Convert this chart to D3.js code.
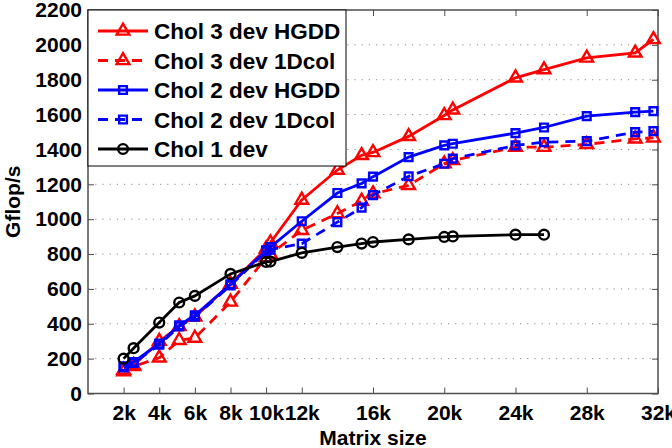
<!DOCTYPE html>
<html>
<head>
<meta charset="utf-8">
<script src="https://cdn.jsdelivr.net/npm/d3@7"></script>
<style>
  body { margin: 0; background: #fff; }
  svg { display: block; font-family: "Liberation Sans", Arial, Helvetica, sans-serif; font-weight: bold; }
</style>
</head>
<body>
<div id="chart"></div>
<script>
// matrix sizes (black series stops at 25600)
const sizes = [2000, 2560, 4000, 5120, 6000, 8000, 10000, 10240, 12000, 14000, 15360, 16000, 18000, 20000, 20480, 24000, 25600, 28000, 30720, 31744];
const chol3Hgdd = [134, 162, 300, 385, 440, 628, 830, 865, 1110, 1282, 1366, 1383, 1475, 1595, 1627, 1811, 1858, 1925, 1954, 2031];
const chol3Col = [125, 155, 205, 305, 318, 525, 780, 800, 936, 1032, 1104, 1146, 1194, 1318, 1337, 1413, 1413, 1429, 1461, 1467];
const chol2Hgdd = [156, 181, 286, 391, 449, 626, 821, 840, 988, 1150, 1205, 1244, 1356, 1423, 1433, 1494, 1526, 1591, 1614, 1620];
const chol2Col = [150, 175, 280, 385, 440, 620, 815, 825, 860, 983, 1066, 1138, 1246, 1318, 1347, 1423, 1442, 1448, 1499, 1505];
const chol1 = [200, 260, 407, 522, 560, 686, 755, 757, 807, 840, 860, 869, 884, 898, 901, 911, 911];

const xTicks = [2000, 4000, 6000, 8000, 10000, 12000, 16000, 20000, 24000, 28000, 32000];
const yTicks = d3.range(0, 2201, 200);

const series = [
  { name: 'Chol 3 dev HGDD', values: chol3Hgdd, color: '#ff0000', dash: null, symbol: d3.symbolTriangle, size: 70 },
  { name: 'Chol 3 dev 1Dcol', values: chol3Col, color: '#ff0000', dash: '10,7', symbol: d3.symbolTriangle, size: 70 },
  { name: 'Chol 2 dev HGDD', values: chol2Hgdd, color: '#0000ff', dash: null, symbol: d3.symbolSquare, size: 60 },
  { name: 'Chol 2 dev 1Dcol', values: chol2Col, color: '#0000ff', dash: '10,7', symbol: d3.symbolSquare, size: 60 },
  { name: 'Chol 1 dev', values: chol1, color: '#000000', dash: null, symbol: d3.symbolCircle, size: 76 }
];

const W = 672, H = 448;
const margin = { top: 10, right: 14, bottom: 54.5, left: 88 };
const width = W - margin.left - margin.right;
const height = H - margin.top - margin.bottom;

const svg = d3.select('#chart').append('svg')
  .attr('width', W)
  .attr('height', H);

const g = svg.append('g').attr('transform', 'translate(' + margin.left + ',' + margin.top + ')');

const x = d3.scaleLinear().domain([0, 32000]).range([0, width]);
const y = d3.scaleLinear().domain([0, 2200]).range([height, 0]);

const axisColor = '#4d4d4d';

// dotted horizontal grid
g.append('g')
  .selectAll('line')
  .data(yTicks.slice(1, -1))
  .enter().append('line')
  .attr('x1', 0).attr('x2', width)
  .attr('y1', d => y(d)).attr('y2', d => y(d))
  .attr('stroke', '#8c8c8c')
  .attr('stroke-width', 1)
  .attr('stroke-dasharray', '1.2,6');

function styleAxis(sel) {
  sel.select('.domain').remove();
  sel.selectAll('line').attr('stroke', axisColor).attr('stroke-width', 1);
  sel.selectAll('text').attr('fill', '#000').style('font-size', '21px').style('font-weight', 'bold');
}

g.append('g')
  .attr('transform', 'translate(0,' + height + ')')
  .call(d3.axisBottom(x).tickValues(xTicks).tickSize(-6).tickPadding(12).tickFormat(d => (d / 1000) + 'k'))
  .call(styleAxis);

g.append('g')
  .call(d3.axisTop(x).tickValues(xTicks).tickSize(-6).tickFormat(''))
  .call(styleAxis);

g.append('g')
  .call(d3.axisLeft(y).tickValues(yTicks).tickSize(-6).tickPadding(6).tickFormat(d3.format('d')))
  .call(styleAxis);

g.append('g')
  .attr('transform', 'translate(' + width + ',0)')
  .call(d3.axisRight(y).tickValues(yTicks).tickSize(-6).tickFormat(''))
  .call(styleAxis);

// frame
g.append('rect')
  .attr('width', width).attr('height', height)
  .attr('fill', 'none')
  .attr('stroke', axisColor)
  .attr('stroke-width', 1.5);

const line = d3.line()
  .x(d => x(d[0]))
  .y(d => y(d[1]));

series.forEach(function(s) {
  const pts = s.values.map((v, i) => [sizes[i], v]);
  g.append('path')
    .datum(pts)
    .attr('d', line)
    .attr('fill', 'none')
    .attr('stroke', s.color)
    .attr('stroke-width', 2.8)
    .attr('stroke-dasharray', s.dash);

  g.append('g')
    .selectAll('path')
    .data(pts)
    .enter().append('path')
    .attr('transform', d => 'translate(' + x(d[0]) + ',' + y(d[1]) + ')')
    .attr('d', d3.symbol().type(s.symbol).size(s.size))
    .attr('fill', 'none')
    .attr('stroke', s.color)
    .attr('stroke-width', 2.4);
});

// legend
const legend = svg.append('g').attr('transform', 'translate(' + margin.left + ',' + margin.top + ')');
legend.append('rect')
  .attr('width', 258).attr('height', 156)
  .attr('fill', '#fff')
  .attr('stroke', '#000')
  .attr('stroke-width', 1);

const rowY = d3.scaleLinear().domain([0, 4]).range([21, 139]);

series.forEach(function(s, i) {
  const row = legend.append('g').attr('transform', 'translate(0,' + rowY(i) + ')');
  row.append('line')
    .attr('x1', 10).attr('x2', 60)
    .attr('stroke', s.color)
    .attr('stroke-width', 2.8)
    .attr('stroke-dasharray', s.dash);
  row.append('path')
    .attr('transform', 'translate(35,0)')
    .attr('d', d3.symbol().type(s.symbol).size(s.size))
    .attr('fill', 'none')
    .attr('stroke', s.color)
    .attr('stroke-width', 2.4);
  row.append('text')
    .attr('x', 66)
    .attr('dy', '0.36em')
    .style('font-size', '22.5px')
    .text(s.name);
});

// axis titles
svg.append('text')
  .attr('transform', 'translate(20,' + (margin.top + height / 2) + ') rotate(-90)')
  .attr('text-anchor', 'middle')
  .style('font-size', '21px')
  .text('Gflop/s');

svg.append('text')
  .attr('x', margin.left + width / 2)
  .attr('y', 445)
  .attr('text-anchor', 'middle')
  .style('font-size', '21px')
  .text('Matrix size');
</script>
</body>
</html>
